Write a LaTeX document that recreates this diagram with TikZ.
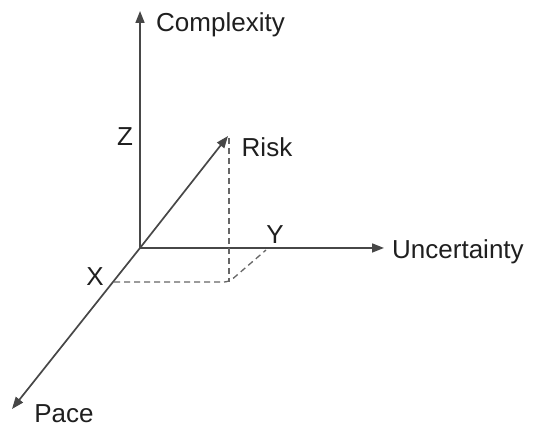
\documentclass[tikz,border=0pt]{standalone}
\usepackage{fontspec}
\setmainfont{Liberation Sans}
\usetikzlibrary{arrows.meta}
\begin{document}
\begin{tikzpicture}[x=1pt,y=-1pt,
  axis/.style={draw=black!72, line width=1.7pt, -{Triangle[length=12pt,width=9pt]}},
  proj/.style={draw=black!60, line width=1.3pt, dash pattern=on 6pt off 4pt},
  lbl/.style={font=\fontsize{26}{30}\selectfont, text=black!88, inner sep=0pt}]
\useasboundingbox (0,0) rectangle (533,427);
\coordinate (O) at (140,248);
\coordinate (Ztip) at (140,11);
\coordinate (Utip) at (384,248);
\coordinate (Ptip) at (12,409);
\coordinate (Rtip) at (228,136);
\coordinate (Rtop) at (229,138);
\coordinate (C) at (229,282);
\coordinate (Xp) at (114,282);
\coordinate (Yp) at (266,250);
\draw[axis] (O) -- (Ztip);
\draw[axis] (O) -- (Utip);
\draw[axis] (O) -- (Ptip);
\draw[axis] (O) -- (Rtip);
\draw[proj] (Rtop) -- (C);
\draw[proj, rounded corners=5pt] (Xp) -- (C) -- (Yp);
\node[lbl, anchor=west] (complexity) at (156,25) {Complexity};
\node[lbl, anchor=west] (uncertainty) at (392,252) {Uncertainty};
\node[lbl, anchor=base, text depth=0pt] (pace) at (64,423) {Pace};
\node[lbl] (risk) at (267,147) {Risk};
\node[lbl] (z) at (125,137) {Z};
\node[lbl] (y) at (275,235) {Y};
\node[lbl] (x) at (95,277) {X};
\end{tikzpicture}
\end{document}
